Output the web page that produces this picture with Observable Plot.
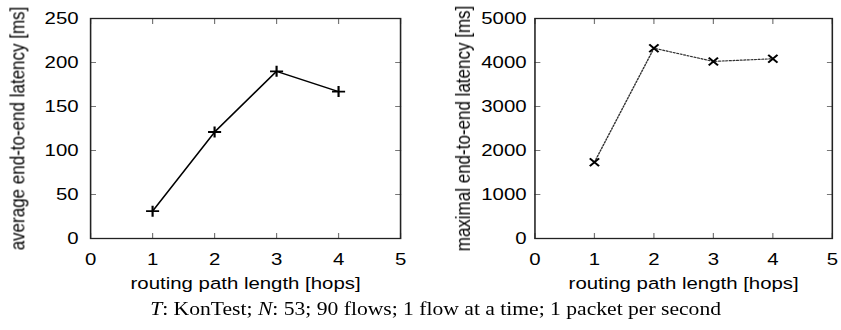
<!DOCTYPE html>
<html>
<head>
<meta charset="utf-8">
<script src="https://cdn.jsdelivr.net/npm/d3@7"></script>
<script src="https://cdn.jsdelivr.net/npm/@observablehq/plot@0.6"></script>
<style>
  body { margin: 0; background: #fff; overflow: hidden; }
  #wrap { position: relative; width: 701px; height: 330px; transform: scaleX(1.2); transform-origin: 0 0; }
  #left { position: absolute; left: 0; top: 0; }
  #right { position: absolute; left: 350px; top: 0; }
  #caption { position: absolute; left: 0; top: 299px; width: 726px; text-align: center; line-height: 20px;
    font-family: "Liberation Serif", "Times New Roman", serif; font-size: 18px; color: #000; white-space: nowrap; }
</style>
</head>
<body>
<div id="wrap">
  <div id="left"></div>
  <div id="right"></div>
  <div id="caption"><i>T</i>: KonTest; <i>N</i>: 53; 90 flows; 1 flow at a time; 1 packet per second</div>
</div>
<script>
const hops = [1, 2, 3, 4];
const avgLatency = [31, 121, 190, 167];
const maxLatency = [1734, 4325, 4025, 4085];
const xTicks = [0, 1, 2, 3, 4, 5];
const avgTicks = [0, 50, 100, 150, 200, 250];
const maxTicks = [0, 1000, 2000, 3000, 4000, 5000];
const xLabel = "routing path length [hops]";
const avgLabel = "average end-to-end latency [ms]";
const maxLabel = "maximal end-to-end latency [ms]";

const avgData = hops.map((h, i) => ({hops: h, v: avgLatency[i]}));
const maxData = hops.map((h, i) => ({hops: h, v: maxLatency[i]}));

const tickColor = "#777";
const FS = 17;
const style = {fontFamily: "'Liberation Sans', Arial, sans-serif", fontSize: FS + "px", color: "#000", background: "#fff", overflow: "visible"};
const fmt = d => String(d);

function panel({data, yDomain, yTicks, yLabel, width, marginLeft, marginRight, tickPad, labelOffset, dashed, symbol}) {
  return Plot.plot({
    width, height: 300,
    marginLeft, marginRight, marginTop: 18, marginBottom: 62,
    style,
    x: {domain: [0, 5]},
    y: {domain: yDomain},
    marks: [
      Plot.axisX(xTicks, {anchor: "bottom", tickSize: -5, tickPadding: 19, tickFormat: fmt, fontSize: FS, stroke: tickColor, fill: "#000", label: xLabel, labelAnchor: "center", labelOffset: 50, labelArrow: "none"}),
      Plot.axisX(xTicks, {anchor: "top", tickSize: -5, tickFormat: () => "", label: null, stroke: tickColor}),
      Plot.axisY(yTicks, {anchor: "left", tickSize: -5, tickPadding: tickPad, tickFormat: fmt, fontSize: FS, stroke: tickColor, fill: "#000", label: yLabel, labelAnchor: "center", labelOffset, labelArrow: "none"}),
      Plot.axisY(yTicks, {anchor: "right", tickSize: -5, tickFormat: () => "", label: null, stroke: tickColor}),
      Plot.frame({stroke: "#222", strokeWidth: 1.3}),
      Plot.line(data, {x: "hops", y: "v", stroke: dashed ? "#333" : "#000", strokeWidth: dashed ? 1.2 : 1.4, strokeDasharray: dashed ? "1.5,1.5" : "none"}),
      Plot.dot(data, {x: "hops", y: "v", symbol, r: 3.6, stroke: "#000", strokeWidth: 1.8})
    ]
  });
}

document.getElementById("left").append(panel({
  data: avgData, yDomain: [0, 250], yTicks: avgTicks, yLabel: avgLabel,
  width: 350, marginLeft: 75, marginRight: 16.7, tickPad: 15, labelOffset: 67, dashed: false, symbol: "plus"
}));
document.getElementById("right").append(panel({
  data: maxData, yDomain: [0, 5000], yTicks: maxTicks, yLabel: maxLabel,
  width: 351, marginLeft: 95.3, marginRight: 7.9, tickPad: 12, labelOffset: 66, dashed: true, symbol: "times"
}));
</script>
</body>
</html>
